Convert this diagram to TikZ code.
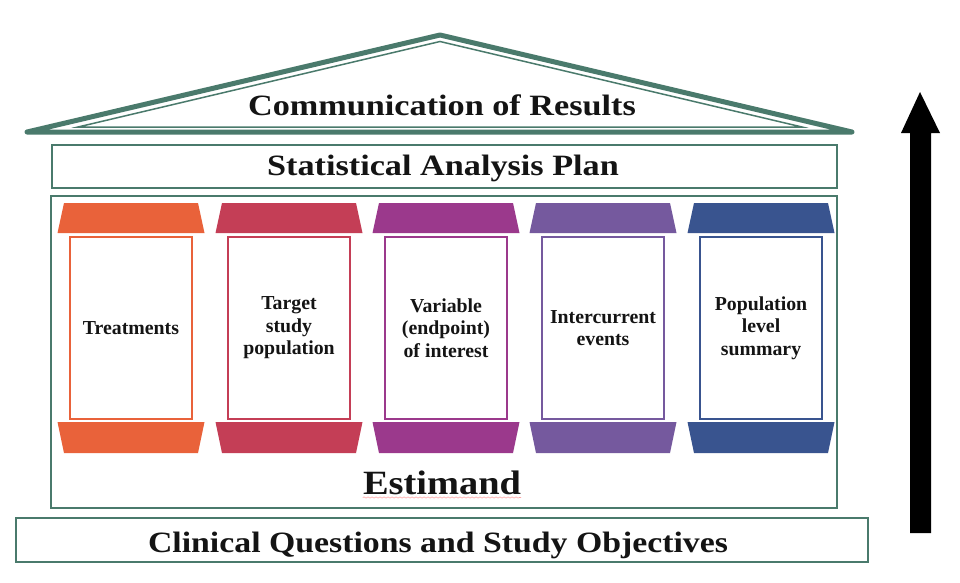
\documentclass[tikz,border=0pt]{standalone}
\usepackage{fontspec}
\setmainfont{Liberation Serif}
\usetikzlibrary{decorations.pathmorphing}
\definecolor{roofgreen}{RGB}{74,122,108}
\definecolor{pOrange}{RGB}{233,98,58}
\definecolor{pRed}{RGB}{196,62,86}
\definecolor{pMagenta}{RGB}{155,57,140}
\definecolor{pPurple}{RGB}{117,89,158}
\definecolor{pBlue}{RGB}{57,84,143}
\begin{document}
\begin{tikzpicture}[x=1pt,y=-1pt,
  frame/.style={draw=roofgreen,line width=2.4pt},
  bigtext/.style={anchor=base,inner sep=0pt,text=black!92,font=\fontsize{29.5}{34}\selectfont\bfseries},
  shaft/.style={draw=#1,line width=2pt,fill=white,minimum width=122pt,minimum height=182pt,inner sep=2pt,align=center,text=black!92,font=\fontsize{19.8}{22.5}\selectfont\bfseries}]
\useasboundingbox (0,0) rectangle (960,582);
\fill[white] (0,0) rectangle (960,582);

% roof
\draw[roofgreen,line width=5pt,line join=round,line cap=round] (27,132) -- (440,35) -- (852,132) -- cycle;
\draw[roofgreen,line width=1.5pt,line join=miter] (78,127) -- (440,41.5) -- (802,127) -- cycle;
\node[bigtext] (comm) at (442,115) {\scalebox{1.16}[1]{Communication of Results}};

% statistical analysis plan
\node[frame,minimum width=785pt,minimum height=43pt,inner sep=0pt] (sap) at (444.5,166.5) {};
\node[bigtext] (saptext) at (443,175) {\scalebox{1.16}[1]{Statistical Analysis Plan}};

% estimand box
\node[frame,minimum width=786pt,minimum height=312pt,inner sep=0pt] (est) at (444,352) {};

% pillars
\foreach \cx/\col/\i/\txt in {131/pOrange/1/{Treatments},289/pRed/2/{Target\\study\\population},446/pMagenta/3/{Variable\\(endpoint)\\of interest},603/pPurple/4/{Intercurrent\\events},761/pBlue/5/{Population\\level\\summary}}{
  \fill[\col] ({\cx-67},203) -- ({\cx+67},203) -- ({\cx+73.5},233) -- ({\cx-73.5},233) -- cycle;
  \fill[\col] ({\cx-73.5},422) -- ({\cx+73.5},422) -- ({\cx+67},453) -- ({\cx-67},453) -- cycle;
  \node[shaft=\col] (p\i) at (\cx,328) {\txt};
}

\node[anchor=base,inner sep=0pt,text=black!92,font=\fontsize{34}{38}\selectfont\bfseries] (esttext) at (442,494) {\scalebox{1.13}[1]{Estimand}};
\draw[red!35,line width=0.6pt,decorate,decoration={snake,amplitude=0.6pt,segment length=4pt}] ([yshift=-3.5pt]esttext.base west) -- ([yshift=-3.5pt]esttext.base east);

% clinical questions
\node[frame,minimum width=852pt,minimum height=44pt,inner sep=0pt] (cq) at (442,540) {};
\node[bigtext] (cqtext) at (438,552) {\scalebox{1.145}[1]{Clinical Questions and Study Objectives}};

% arrow
\fill[black] (910,533) -- (931,533) -- (931,133) -- (940,133) -- (920,92) -- (901,133) -- (910,133) -- cycle;
\end{tikzpicture}
\end{document}
